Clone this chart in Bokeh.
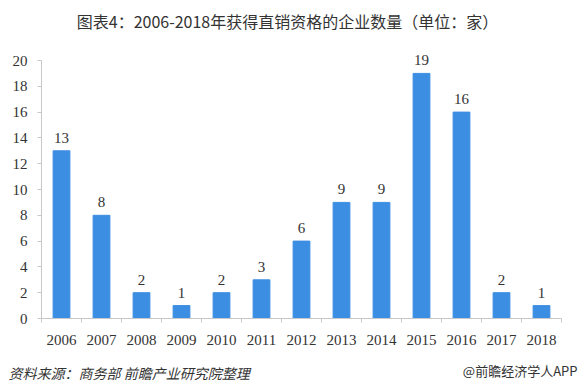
from bokeh.plotting import figure
from bokeh.models import (ColumnDataSource, Label, Range1d, LabelSet, LinearAxis,
                          FixedTicker)
from bokeh.embed import file_html
from bokeh.resources import INLINE

years = [2006, 2007, 2008, 2009, 2010, 2011, 2012, 2013, 2014, 2015, 2016, 2017, 2018]
year_labels = ["2006", "2007", "2008", "2009", "2010", "2011", "2012", "2013", "2014",
               "2015", "2016", "2017", "2018"]
counts = [13, 8, 2, 1, 2, 3, 6, 9, 9, 19, 16, 2, 1]
y_ticks = [0, 2, 4, 6, 8, 10, 12, 14, 16, 18, 20]
title_text = "图表4：2006-2018年获得直销资格的企业数量（单位：家）"
source_text = "资料来源：商务部  前瞻产业研究院整理"
brand_text = "@前瞻经济学人APP"

src = ColumnDataSource(dict(x=years, y=counts, t=[str(c) for c in counts]))

W, H = 583, 391
PX_X = 40.0    # pixels per year slot
PX_Y = 12.9    # pixels per unit
x0 = years[0] - 61 / PX_X
y0 = -(H - 318) / PX_Y

p = figure(width=W, height=H, output_backend="svg", toolbar_location=None,
           x_range=Range1d(x0, x0 + W / PX_X), y_range=Range1d(y0, y0 + H / PX_Y),
           x_axis_type=None, y_axis_type=None, min_border=0,
           min_border_left=0, min_border_right=0, min_border_top=0, min_border_bottom=0)
p.outline_line_color = None
p.grid.visible = False

p.vbar(x="x", top="y", width=0.42, source=src, color="#3c8ee2")
p.add_layout(LabelSet(x="x", y="y", text="t", source=src, text_align="center",
                      text_baseline="bottom", y_offset=8, text_font="Liberation Serif",
                      text_font_size="15px", text_color="#333333"))

lo, hi = years[0] - 0.5, years[-1] + 0.5
xaxis = LinearAxis(fixed_location=0, bounds=(lo, hi),
                   ticker=FixedTicker(ticks=years, minor_ticks=[lo + i for i in range(len(years) + 1)]),
                   major_label_overrides={y: s for y, s in zip(years, year_labels)})
xaxis.axis_line_color = "#c8c8c8"
xaxis.major_tick_line_color = None
xaxis.major_tick_out = 0
xaxis.major_tick_in = 0
xaxis.minor_tick_line_color = "#c8c8c8"
xaxis.minor_tick_out = 4
xaxis.minor_tick_in = 0
xaxis.major_label_standoff = 12
p.add_layout(xaxis, "below")

yaxis = LinearAxis(fixed_location=lo, bounds=(0, 20), ticker=FixedTicker(ticks=y_ticks))
yaxis.axis_line_color = "#c8c8c8"
yaxis.major_tick_line_color = "#c8c8c8"
yaxis.major_tick_in = 0
yaxis.major_tick_out = 4
yaxis.minor_tick_line_color = None
yaxis.major_label_standoff = 10
p.add_layout(yaxis, "left")

for ax in (xaxis, yaxis):
    ax.major_label_text_font = "Liberation Serif"
    ax.major_label_text_font_size = "15px"
    ax.major_label_text_color = "#333333"

p.add_layout(Label(x=287, y=H - 20, x_units="screen", y_units="screen", text=title_text,
                   text_align="center", text_baseline="middle", text_font="Noto Sans CJK SC",
                   text_font_size="16px", text_color="#333333"))
p.add_layout(Label(x=8, y=H - 372, x_units="screen", y_units="screen", text=source_text,
                   text_align="left", text_baseline="middle", text_font="Noto Sans CJK SC",
                   text_font_size="14px", text_font_style="italic", text_color="#333333"))
p.add_layout(Label(x=577, y=H - 370, x_units="screen", y_units="screen", text=brand_text,
                   text_align="right", text_baseline="middle", text_font="Noto Sans CJK SC",
                   text_font_size="13px", text_color="#333333"))

open("out.html", "w").write(file_html(p, INLINE))
